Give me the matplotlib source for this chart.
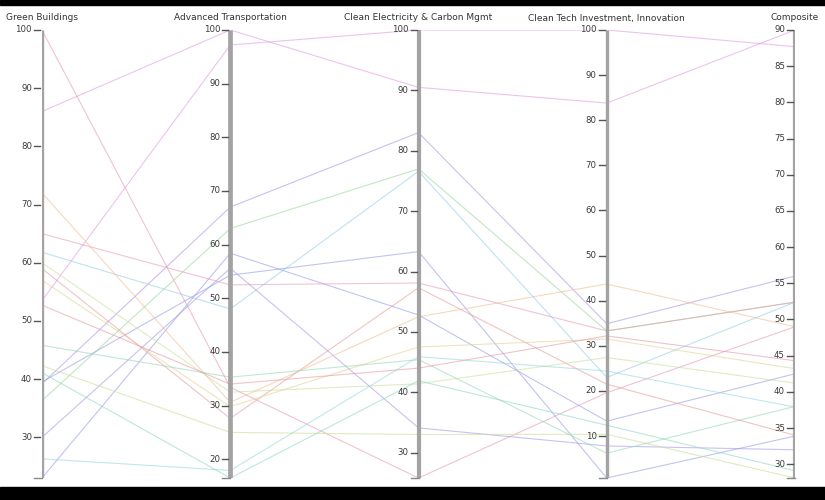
import matplotlib.pyplot as plt
from matplotlib.patches import Rectangle

dimensions = ["Green Buildings", "Advanced Transportation", "Clean Electricity & Carbon Mgmt",
              "Clean Tech Investment, Innovation", "Composite"]

# one value per line (19 regions) for each dimension
green_buildings = [86, 53.5, 100, 39.2, 36.3, 61.8, 23, 30, 39.5, 65, 72, 59, 57, 42.3, 60, 45.8, 26.3, 41.1, 52.7]
adv_transport = [100, 97.2, 33.4, 67, 63, 48, 58.4, 55.6, 54.3, 52.5, 30.6, 27.6, 29.8, 25, 32.5, 35.3, 17.9, 16.5, 34]
clean_elec = [90.5, 100, 25.8, 83, 77, 76.6, 52.8, 34.1, 63.3, 58.1, 52.5, 57.3, 47.5, 33, 41.4, 45.4, 45.9, 41.9, 44]
clean_tech = [83.8, 100, 19.6, 34.9, 33.3, 23, 13.3, 7.8, 0.7, 33.3, 43.7, 21.5, 31.5, 10.4, 27.4, 6.2, 24.4, 12.4, 32.2]
composite = [90, 87.7, 49, 56, 52.4, 52.4, 42.5, 32, 33.9, 52.4, 49, 34, 43.2, 28.1, 41.2, 38, 37.9, 29.1, 44.3]

line_colors = ['#e29be2', '#e29be2', '#e99ab4', '#ad93e6', '#98d898', '#96cde8', '#979de8', '#a898e6',
               '#979de8', '#e89ab8', '#eebf92', '#e99c9c', '#e2d393', '#cbdc98', '#c9df9c', '#96d8b8',
               '#96d8dc', '#90d6c8', '#e89aa4']

tick_values = [
    [30, 40, 50, 60, 70, 80, 90, 100],
    [20, 30, 40, 50, 60, 70, 80, 90, 100],
    [30, 40, 50, 60, 70, 80, 90, 100],
    [10, 20, 30, 40, 50, 60, 70, 80, 90, 100],
    [30, 35, 40, 45, 50, 55, 60, 65, 70, 75, 80, 85, 90],
]

columns = [green_buildings, adv_transport, clean_elec, clean_tech, composite]
lows = [min(c) for c in columns]
highs = [max(c) for c in columns]


def norm(v, i):
    return (v - lows[i]) / (highs[i] - lows[i])


fig = plt.figure(figsize=(8.25, 5), dpi=100)
fig.patches.append(Rectangle((0, 1 - 5 / 500), 1, 5 / 500, transform=fig.transFigure, color='black'))
fig.patches.append(Rectangle((0, 0), 1, 13 / 500, transform=fig.transFigure, color='black'))

ax = fig.add_axes([42 / 825, 22 / 500, 753 / 825, 448 / 500])
ax.set_xlim(0, 4)
ax.set_ylim(0, 1)
ax.axis('off')

xs = list(range(len(dimensions)))
for k in range(len(green_buildings)):
    ys = [norm(columns[i][k], i) for i in xs]
    ax.plot(xs, ys, color=line_colors[k], lw=0.8, alpha=0.6, zorder=2)

px_x = 4 / 753
px_y = 1 / 448
bar_widths = [2.4, 3.4, 3.0, 2.4, 3.0]
for i, name in enumerate(dimensions):
    ax.plot([i, i], [0, 1], color='#a3a3a3', lw=bar_widths[i], solid_capstyle='butt', zorder=3)
    ax.plot([i - 8 * px_x, i], [0, 0], color='#888888', lw=1, zorder=3, clip_on=False)
    for t in tick_values[i]:
        y = norm(t, i)
        ax.plot([i - 8 * px_x, i - 2 * px_x], [y, y], color='#555555', lw=1, zorder=3, clip_on=False)
        ax.text(i - 10 * px_x, y, str(t), ha='right', va='center', fontsize=6.2,
                color='#3a3a3a', clip_on=False)
    ax.text(i, 1 + 12 * px_y, name, ha='center', va='center', fontsize=6.5,
            color='#333333', clip_on=False)

fig.savefig('out.png', dpi=100)
